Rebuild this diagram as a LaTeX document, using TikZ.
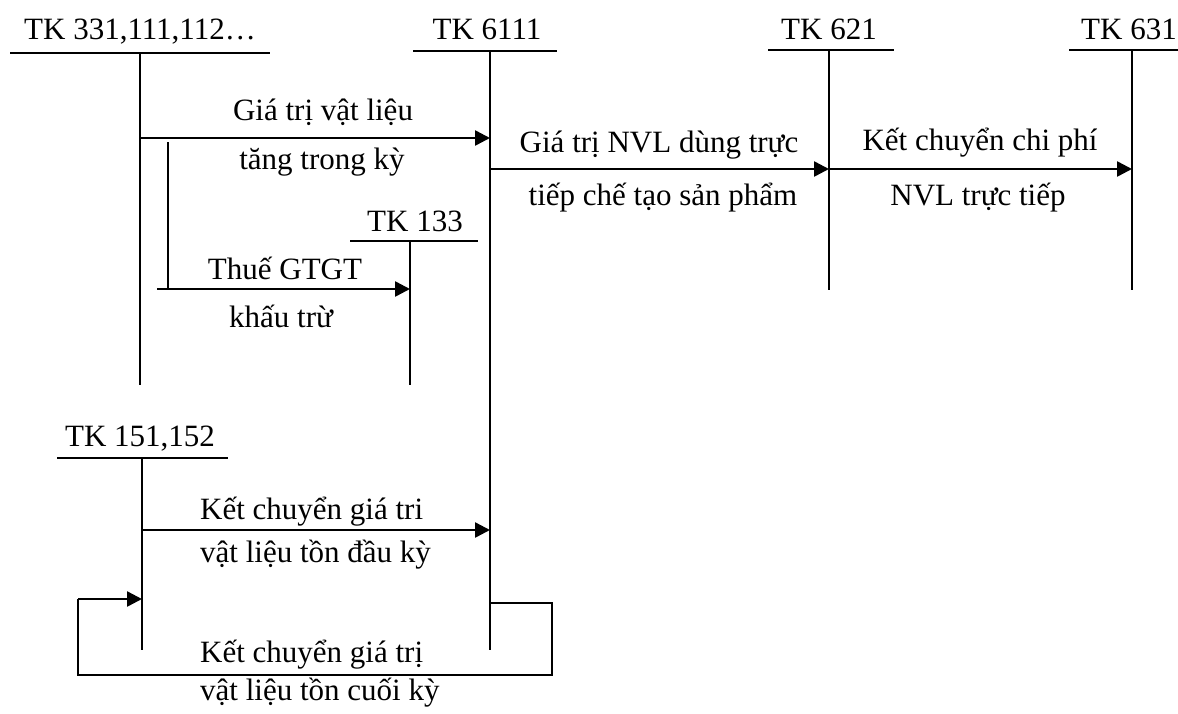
\documentclass[tikz,border=0pt]{standalone}
\usepackage{fontspec}
\setmainfont{Liberation Serif}
\usetikzlibrary{arrows.meta}
\begin{document}
\begin{tikzpicture}[x=1pt,y=-1pt,
  rule/.style={line width=2.3pt},
  flow/.style={line width=2.5pt,-{Triangle[length=15pt,width=15pt]}},
  lbl/.style={inner sep=0pt,anchor=base,font=\fontsize{31}{37}\selectfont},
  lbll/.style={lbl,anchor=base west}]
\useasboundingbox (0,0) rectangle (1178,713);

% account heads: left end, right end, top of the stem, foot of the stem
\coordinate (h331l) at (10,53);   \coordinate (h331r) at (270,53);
\coordinate (t331) at (140,53);   \coordinate (b331) at (140,385);
\coordinate (h6111l) at (413,51); \coordinate (h6111r) at (557,51);
\coordinate (t6111) at (490,51);  \coordinate (b6111) at (490,650);
\coordinate (h621l) at (768,50);  \coordinate (h621r) at (894,50);
\coordinate (t621) at (829,50);   \coordinate (b621) at (829,290);
\coordinate (h631l) at (1069,50); \coordinate (h631r) at (1178,50);
\coordinate (t631) at (1132,50);  \coordinate (b631) at (1132,290);
\coordinate (h133l) at (350,241); \coordinate (h133r) at (478,241);
\coordinate (t133) at (410,241);  \coordinate (b133) at (410,385);
\coordinate (h151l) at (57,458);  \coordinate (h151r) at (228,458);
\coordinate (t151) at (142,458);  \coordinate (b151) at (142,650);

% account titles
\node[lbl] (n331)  at (140,39)  {TK 331,111,112…};
\node[lbl] (n6111) at (487,39)  {TK 6111};
\node[lbl] (n621)  at (829,39)  {TK 621};
\node[lbl] (n631)  at (1129,39) {TK 631};
\node[lbl] (n133)  at (415,231) {TK 133};
\node[lbl] (n151)  at (140,446) {TK 151,152};

% T-account rules
\draw[rule] (h331l) -- (h331r);   \draw[rule] (t331) -- (b331);
\draw[rule] (h6111l) -- (h6111r); \draw[rule] (t6111) -- (b6111);
\draw[rule] (h621l) -- (h621r);   \draw[rule] (t621) -- (b621);
\draw[rule] (h631l) -- (h631r);   \draw[rule] (t631) -- (b631);
\draw[rule] (h133l) -- (h133r);   \draw[rule] (t133) -- (b133);
\draw[rule] (h151l) -- (h151r);   \draw[rule] (t151) -- (b151);

% purchases into TK 6111
\coordinate (p1) at (140,138);
\draw[flow] (p1) -- (p1 -| t6111);
\node[lbl] (l1a) at (323,120) {Giá trị vật liệu};
\node[lbl] (l1b) at (322,169) {tăng trong kỳ};

% deductible VAT branch
\coordinate (v1) at (168,142);
\coordinate (v2) at (168,289);
\coordinate (v3) at (157,289);
\draw[rule] (v1) -- (v2);
\draw[flow] (v3) -- (v3 -| t133);
\node[lbl] (l2a) at (285,279) {Thuế GTGT};
\node[lbl] (l2b) at (281,327) {khấu trừ};

% TK 6111 -> TK 621 -> TK 631
\coordinate (p3) at (490,169);
\draw[flow] (p3) -- (p3 -| t621);
\draw[flow] (p3 -| t621) -- (p3 -| t631);
\node[lbl] (l3a) at (659,152) {Giá trị NVL dùng trực};
\node[lbl] (l3b) at (663,205) {tiếp chế tạo sản phẩm};
\node[lbl] (l4a) at (980,150) {Kết chuyển chi phí};
\node[lbl] (l4b) at (978,205) {NVL trực tiếp};

% opening stock into TK 6111
\coordinate (p5) at (142,530);
\draw[flow] (p5) -- (p5 -| t6111);
\node[lbll] (l5a) at (200,519) {Kết chuyển giá tri};
\node[lbll] (l5b) at (200,562) {vật liệu tồn đầu kỳ};

% closing stock back to TK 151,152
\coordinate (r1) at (490,603);
\coordinate (r2) at (552,603);
\coordinate (r3) at (552,675);
\coordinate (r4) at (78,675);
\coordinate (r5) at (78,599);
\draw[rule] (r1) -- (r2) -- (r3) -- (r4) -- (r5);
\draw[flow] (r5) -- (r5 -| t151);
\node[lbll] (l6a) at (200,662) {Kết chuyển giá trị};
\node[lbll] (l6b) at (200,700) {vật liệu tồn cuối kỳ};
\end{tikzpicture}
\end{document}
